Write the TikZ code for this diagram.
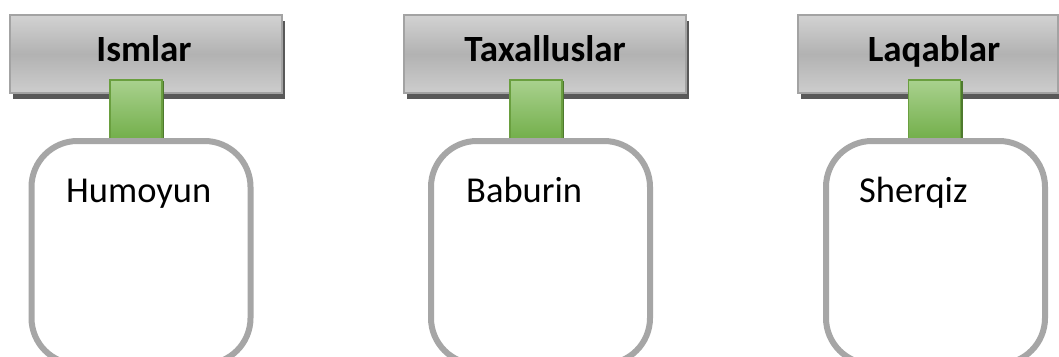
\documentclass[tikz,border=0pt]{standalone}
\usepackage{fontspec}
\setmainfont{Carlito}
\usetikzlibrary{shadows}
\definecolor{boxgray}{HTML}{A6A6A6}
\definecolor{hdrline}{HTML}{A3A3A3}
\definecolor{hdrtop}{HTML}{D2D2D2}
\definecolor{hdrmid}{HTML}{B2B2B2}
\definecolor{hdrbot}{HTML}{CDCDCD}
\definecolor{hdrshadow}{HTML}{595959}
\definecolor{tabtop}{HTML}{A9D18E}
\definecolor{tabbot}{HTML}{70AD47}
\definecolor{tabline}{HTML}{6A9F3F}
\definecolor{tabshadow}{HTML}{4E7A2E}
\tikzset{
  hdr/.style={draw=hdrline, line width=1.2pt, inner sep=0pt,
    top color=hdrtop, bottom color=hdrbot, middle color=hdrmid,
    drop shadow={shadow xshift=3pt, shadow yshift=-6pt, fill=hdrshadow, opacity=1}},
  hdrtext/.style={anchor=base, inner sep=0pt, font=\fontsize{37}{40}\selectfont\bfseries},
  tabbox/.style={draw=tabline, line width=1.2pt, inner sep=0pt,
    top color=tabtop, bottom color=tabbot,
    minimum width=52pt, minimum height=62pt,
    drop shadow={shadow xshift=2pt, shadow yshift=-1pt, fill=tabshadow, opacity=1}},
  namebox/.style={draw=boxgray, fill=white, line width=6pt, rounded corners=46pt,
    inner sep=0pt, minimum width=219pt, minimum height=223pt},
  nametext/.style={anchor=base west, inner sep=0pt, font=\fontsize{36.5}{40}\selectfont}
}
\begin{document}
\begin{tikzpicture}[x=1pt,y=-1pt]
\useasboundingbox[fill=white] (0,0) rectangle (1059,356);
% headers
\node[hdr, minimum width=272pt, minimum height=78pt] (h1) at (146,54) {};
\node[hdr, minimum width=282pt, minimum height=78pt] (h2) at (545,54) {};
\node[hdr, minimum width=260pt, minimum height=78pt] (h3) at (928,54) {};
\node[hdrtext] (ht1) at (144,61) {Ismlar};
\node[hdrtext] (ht2) at (545,61) {Taxalluslar};
\node[hdrtext] (ht3) at (934,61) {Laqablar};
% tabs
\node[tabbox] (t1) at (136,111) {};
\node[tabbox] (t2) at (536,111) {};
\node[tabbox] (t3) at (934.5,111) {};
% boxes
\node[namebox] (b1) at (141,252.5) {};
\node[namebox] (b2) at (540.5,252.5) {};
\node[namebox] (b3) at (935.5,252.5) {};
\node[nametext] (n1) at (66,202) {Humoyun};
\node[nametext] (n2) at (466,202) {Baburin};
\node[nametext] (n3) at (859,202) {Sherqiz};
\end{tikzpicture}
\end{document}
